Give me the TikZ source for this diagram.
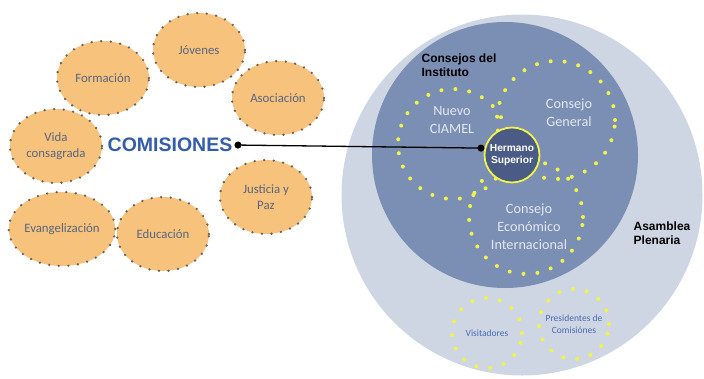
\documentclass[tikz,border=0pt]{standalone}
\usepackage{fontspec}
\setmainfont{Carlito}
\newfontfamily\headfont{Liberation Sans}
\usetikzlibrary{shapes.geometric, arrows.meta, positioning}

\definecolor{comorange}{RGB}{246,194,124}
\definecolor{comdots}{RGB}{105,98,92}
\definecolor{comtext}{RGB}{88,102,128}
\definecolor{comblue}{RGB}{52,92,172}
\definecolor{plenaria}{RGB}{206,214,227}
\definecolor{consejos}{RGB}{123,142,180}
\definecolor{superior}{RGB}{74,92,134}
\definecolor{dotyellow}{RGB}{240,244,72}
\definecolor{lighttext}{RGB}{226,232,242}
\definecolor{bluetext}{RGB}{72,108,180}

\begin{document}
\begin{tikzpicture}[
    x=1pt, y=-1pt,
    comision/.style={ellipse, fill=comorange, draw=comdots, line width=2.6pt, line cap=round, dash pattern=on 0pt off 9.6pt, minimum width=92pt, minimum height=74pt, inner sep=0pt, align=center, text=comtext, font=\fontsize{12.8}{16}\selectfont},
    consejo/.style={circle, draw=dotyellow, line width=4pt, line cap=round, dash pattern=on 0pt off 14pt, inner sep=0pt},
    ring/.style={circle, draw=none, inner sep=0pt},
    paneltext/.style={align=center, text=lighttext, font=\fontsize{14.2}{18}\selectfont},
    headtext/.style={align=left, font=\headfont\bfseries\fontsize{12}{14}\selectfont}
]
\useasboundingbox (0,0) rectangle (704,378);

% Place the big circles
\node [ring, fill=plenaria, minimum size=361pt] (plenaria) at (522,195) {};
\node [ring, fill=consejos, minimum size=266pt] (consejos) at (505,155) {};

% Dotted councils
\node [consejo, minimum size=118pt] (general) at (556,120) {};
\node [consejo, minimum size=110pt] (ciamel) at (453,144) {};
\node [consejo, minimum size=114pt] (economico) at (526,217) {};
\node [paneltext] (ciameltext) at (452,120) {Nuevo\\CIAMEL};
\node [paneltext] (generaltext) at (569,113) {Consejo\\General};
\node [paneltext] (economicotext) at (529,227) {Consejo\\Económico\\Internacional};
\node [circle, fill=superior, draw=dotyellow, line width=1.8pt, minimum size=55pt, inner sep=0pt, align=center, text=white, font=\headfont\bfseries\fontsize{10.2}{12}\selectfont] (hermano) at (512,155) {Hermano\\Superior};

% Lower circles
\node [consejo, minimum size=70pt, align=center, text=bluetext, font=\fontsize{9.5}{12}\selectfont] (visitadores) at (487,333) {Visitadores};
\node [consejo, minimum size=70pt, align=center, text=bluetext, font=\fontsize{9.5}{12}\selectfont] (presidentes) at (574,324) {Presidentes de\\Comisiónes};

% Titles
\node [headtext] (institutotext) at (459,65) {Consejos del\\Instituto};
\node [headtext] (plenariatext) at (662,233) {Asamblea\\Plenaria};

% Commissions
\node [comision] (jovenes) at (199,50) {Jóvenes};
\node [comision] (formacion) at (103,78) {Formación};
\node [comision] (asociacion) at (278,98) {Asociación};
\node [comision] (vida) at (56,146) {Vida\\consagrada};
\node [comision] (justicia) at (266,197) {Justicia y\\Paz};
\node [comision] (evangelizacion) at (62,229) {Evangelización};
\node [comision] (educacion) at (163,234) {Educación};
\node [inner sep=2pt, text=comblue, font=\headfont\bfseries\fontsize{19.5}{22}\selectfont] (comisiones) at (170,145) {COMISIONES};

% Connector
\draw [line width=1.3pt, {Circle[length=7pt]}-{Circle[length=7pt]}] (comisiones.east) -- (hermano.166);

\end{tikzpicture}
\end{document}
